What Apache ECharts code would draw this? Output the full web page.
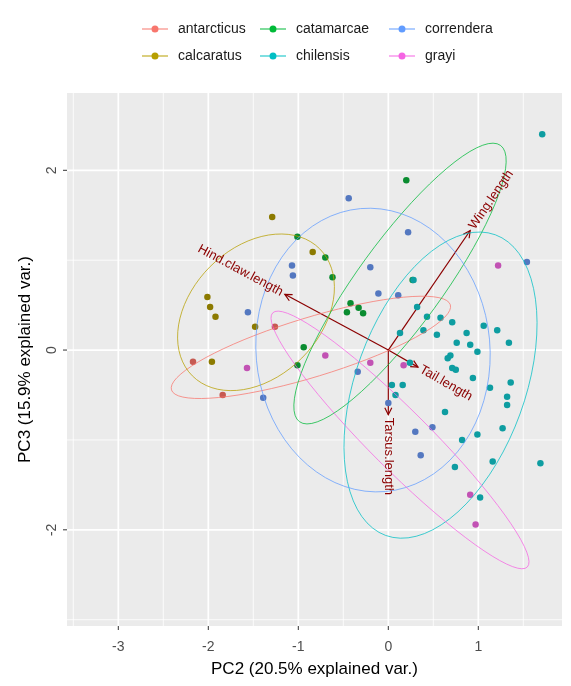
<!DOCTYPE html>
<html><head><meta charset="utf-8">
<script src="https://cdn.jsdelivr.net/npm/echarts@6/dist/echarts.min.js"></script>
<style>html,body{margin:0;padding:0;background:#fff}#c{width:571px;height:686px}</style>
</head><body><div id="c"></div>
<script>
// ---- data ----
const groups = ['antarcticus','calcaratus','catamarcae','chilensis','correndera','grayi'];
const groupColors = ['#F8766D','#B79F00','#00BA38','#00BFC4','#619CFF','#F564E3'];
const pointColors = ['#C65A52','#8C7A00','#0A8C30','#0E9DA1','#5478C0','#C252B4'];

const antarcticusPts = [[-2.17,-0.13],[-1.84,-0.5],[-1.26,0.26]];
const calcaratusPts = [[-1.29,1.48],[-0.84,1.09],[-2.01,0.59],[-1.98,0.48],[-1.92,0.37],[-1.48,0.26],[-1.96,-0.13]];
const catamarcaePts = [[0.2,1.89],[-1.01,1.26],[-0.7,1.03],[-0.62,0.81],[-0.42,0.52],[-0.33,0.47],[-0.46,0.42],[-0.28,0.41],[-0.94,0.03],[-1.01,-0.17],[0.27,0.78]];
const chilensisPts = [[1.71,2.40],[0.28,0.78],[0.32,0.48],[0.43,0.37],[0.39,0.22],[0.13,0.19],[0.24,-0.14],[0.04,-0.39],[0.16,-0.39],[0.08,-0.5],[0.69,-0.06],[0.71,-0.2],[0.99,-0.02],[0.94,-0.31],[1.13,-0.42],[1.36,-0.36],[1.32,-0.52],[1.32,-0.61],[0.63,-0.69],[0.82,-1.0],[0.99,-0.94],[1.27,-0.87],[0.74,-1.3],[1.16,-1.24],[1.69,-1.26],[1.02,-1.64],[0.71,0.31],[0.87,0.19],[0.91,0.06],[1.06,0.27],[1.21,0.22],[1.34,0.08],[0.76,0.08],[0.58,0.36],[0.54,0.17],[0.66,-0.09],[0.75,-0.22]];
const correnderaPts = [[-0.44,1.69],[-0.2,0.92],[-1.07,0.94],[-1.06,0.83],[-1.56,0.42],[1.54,0.98],[0.11,0.61],[-0.34,-0.24],[0.3,-0.91],[0.49,-0.86],[0.36,-1.17],[0.0,-0.59],[-0.11,0.63],[0.22,1.31],[-1.39,-0.53]];
const grayiPts = [[1.22,0.94],[-0.7,-0.06],[-1.57,-0.2],[0.91,-1.61],[0.97,-1.94],[-0.2,-0.14],[0.17,-0.17]];
const groupPts = [antarcticusPts, calcaratusPts, catamarcaePts, chilensisPts, correnderaPts, grayiPts];

// 68% normal ellipses: centre, semi-axes, tilt (deg)
const ellipseCX = [-0.86,-1.47,0.13,0.58,-0.17,0.13];
const ellipseCY = [0.03,0.42,0.74,-0.39,0.0,-1.0];
const ellipseA  = [1.62,1.0,1.9,1.78,1.58,2.0];
const ellipseB  = [0.33,0.72,0.47,0.94,1.3,0.33];
const ellipseAngle = [17,45,54,70,95,-45];

// variable loadings (arrows)
const arrowNames = ['Hind.claw.length','Wing.length','Tail.length','Tarsus.length'];
const arrowX = [-1.15,0.91,0.33,0.0];
const arrowY = [0.62,1.33,-0.19,-0.72];

const xTicks = [-3,-2,-1,0,1];
const xMinor = [-3.5,-2.5,-1.5,-0.5,0.5,1.5];
const yTicks = [-2,0,2];
const yMinor = [-3,-1,1];
const xTitle = 'PC2 (20.5% explained var.)';
const yTitle = 'PC3 (15.9% explained var.)';

// ---- build ----
const FONT = 'Liberation Sans';
function ellipsePts(i){
  const out=[]; const th=ellipseAngle[i]*Math.PI/180; const n=72;
  for(let k=0;k<=n;k++){
    const t=2*Math.PI*k/n;
    const ex=ellipseA[i]*Math.cos(t), ey=ellipseB[i]*Math.sin(t);
    out.push([ellipseCX[i]+ex*Math.cos(th)-ey*Math.sin(th), ellipseCY[i]+ex*Math.sin(th)+ey*Math.cos(th)]);
  }
  return out;
}
const gridData = [];
xMinor.forEach(v=>gridData.push([v,0,0]));
yMinor.forEach(v=>gridData.push([v,1,0]));
xTicks.forEach(v=>gridData.push([v,0,1]));
yTicks.forEach(v=>gridData.push([v,1,1]));

const series = [];
series.push({
  type:'custom', name:'_grid', silent:true, z:0, clip:false,
  renderItem:(params, api)=>{
    const v=api.value(0), dir=api.value(1), major=api.value(2);
    const cs=params.coordSys; let shape, tick;
    if(dir===0){ const p=api.coord([v,0]); shape={x1:p[0],y1:cs.y,x2:p[0],y2:cs.y+cs.height};
      tick={x1:p[0],y1:cs.y+cs.height,x2:p[0],y2:cs.y+cs.height+4}; }
    else { const p=api.coord([0,v]); shape={x1:cs.x,y1:p[1],x2:cs.x+cs.width,y2:p[1]};
      tick={x1:cs.x-4,y1:p[1],x2:cs.x,y2:p[1]}; }
    const children=[{type:'line', shape, style:{stroke:'#FFFFFF', lineWidth: major?1.7:0.8}}];
    if(major) children.push({type:'line', shape:tick, style:{stroke:'#333333', lineWidth:1}});
    return {type:'group', children};
  },
  data: gridData
});
// arrows
series.push({
  type:'custom', name:'_arrows', silent:true, z:2,
  renderItem:(params, api)=>{
    const o=api.coord([0,0]); const t=api.coord([api.value(0),api.value(1)]);
    const dx=t[0]-o[0], dy=t[1]-o[1]; const L=Math.hypot(dx,dy); const ux=dx/L, uy=dy/L;
    const h=7, w=3.5;
    return {type:'group', children:[
      {type:'line', shape:{x1:o[0],y1:o[1],x2:t[0],y2:t[1]}, style:{stroke:'#8B0000', lineWidth:1.2}},
      {type:'polyline', shape:{points:[[t[0]-ux*h-uy*w, t[1]-uy*h+ux*w],[t[0],t[1]],[t[0]-ux*h+uy*w, t[1]-uy*h-ux*w]]}, style:{stroke:'#8B0000', lineWidth:1.2, fill:null}}
    ]};
  },
  data: arrowX.map((x,i)=>[x,arrowY[i]])
});
groups.forEach((g,i)=>{
  series.push({type:'scatter', name:g, z:3, symbol:'circle', symbolSize:6.5,
    itemStyle:{color:pointColors[i], opacity:1}, data: groupPts[i]});
});
groups.forEach((g,i)=>{
  series.push({type:'line', name:'_ell_'+g, z:4, silent:true, showSymbol:false, symbol:'none',
    lineStyle:{color:groupColors[i], width:1, opacity:0.75}, data: ellipsePts(i)});
});
// arrow labels
series.push({
  type:'custom', name:'_labels', silent:true, z:5, clip:false,
  renderItem:(params, api)=>{
    const o=api.coord([0,0]); const t=api.coord([api.value(0),api.value(1)]);
    const dx=t[0]-o[0], dy=t[1]-o[1]; const L=Math.hypot(dx,dy); const ux=dx/L, uy=dy/L;
    const ang=Math.atan2(-dy,dx); const left = dx < -1e-6;
    const off=3;
    return {type:'text', x:t[0]+ux*off, y:t[1]+uy*off, rotation: left? ang-Math.PI : ang,
      style:{text:arrowNames[params.dataIndex], fill:'#8B0000', font:'13px '+FONT,
        align:left?'right':'left', verticalAlign:'middle'}};
  },
  data: arrowX.map((x,i)=>[x,arrowY[i]])
});

const keyPath = 'path://M0,2.9H26V4.1H0Z M16.5,3.5A3.5,3.5,0,1,1,9.5,3.5A3.5,3.5,0,1,1,16.5,3.5Z';
const legendLeft = [142,142,260,260,389,389];
const legendTop = [22,49,22,49,22,49];
const legends = groups.map((g,i)=>({
  left:legendLeft[i], top:legendTop[i], padding:0, itemWidth:26, itemHeight:7, itemGap:0,
  selectedMode:false,
  textStyle:{fontFamily:FONT, fontSize:14, color:'#1A1A1A', padding:[0,0,0,5]},
  data:[{name:g, icon:keyPath, itemStyle:{color:groupColors[i]}}]
}));

const option = {
  animation:false,
  backgroundColor:'#FFFFFF',
  textStyle:{fontFamily:FONT},
  legend: legends,
  grid:{left:67, right:9, top:93, bottom:60, show:true, backgroundColor:'#EBEBEB', borderWidth:0, containLabel:false},
  xAxis:{type:'value', min:-3.57, max:1.93,
    name:xTitle, nameLocation:'middle', nameGap:35,
    nameTextStyle:{fontFamily:FONT, fontSize:17, color:'#000'},
    axisLine:{show:false, onZero:false}, splitLine:{show:false}, axisTick:{show:false},
    axisLabel:{customValues:xTicks, margin:14, fontFamily:FONT, fontSize:14, color:'#4D4D4D'}},
  yAxis:{type:'value', min:-3.07, max:2.86,
    name:yTitle, nameLocation:'middle', nameGap:33, nameRotate:90,
    nameTextStyle:{fontFamily:FONT, fontSize:17, color:'#000'},
    axisLine:{show:false, onZero:false}, splitLine:{show:false}, axisTick:{show:false},
    axisLabel:{customValues:yTicks, rotate:90, margin:8, fontFamily:FONT, fontSize:14, color:'#4D4D4D'}},
  series
};
const chart = echarts.init(document.getElementById('c'), null, {renderer:'canvas'});
chart.setOption(option);
</script>
</body></html>
